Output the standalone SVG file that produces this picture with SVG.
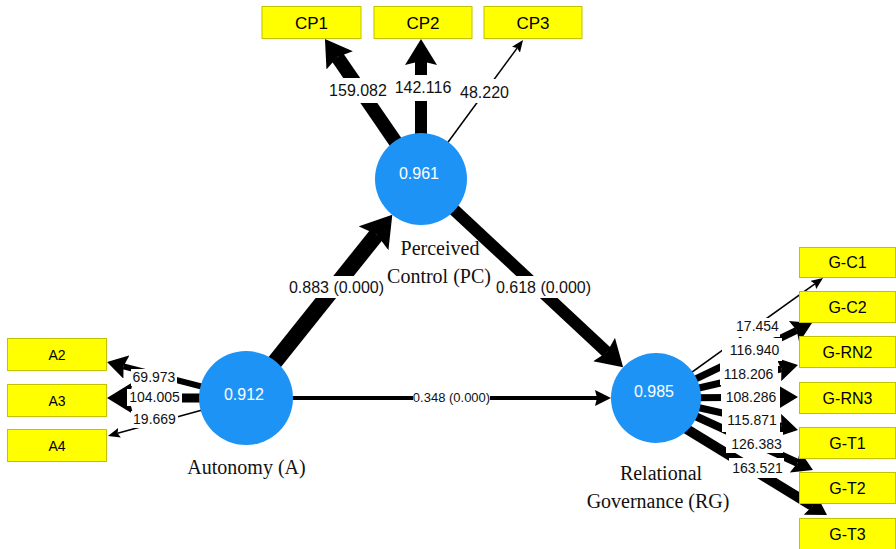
<svg xmlns="http://www.w3.org/2000/svg" width="896" height="549" viewBox="0 0 896 549">
  <style>
    .ind rect { fill: #ffff00; stroke: #c2c200; stroke-width: 1; }
    .ind text { font-family: "Liberation Sans", Arial, sans-serif; fill: #000; text-anchor: middle; }
    .lat circle { fill: #1e93f6; }
    .lat text.val { font-family: "Liberation Sans", Arial, sans-serif; font-size: 16px; fill: #fff; text-anchor: middle; }
    .lat text.name { font-family: "Liberation Serif", "Times New Roman", serif; font-size: 20px; fill: #111; text-anchor: middle; }
    .edge { fill: none; stroke: #000; stroke-linecap: butt; }
    .lbl rect { fill: #fff; }
    .lbl text { font-family: "Liberation Sans", Arial, sans-serif; fill: #111; text-anchor: middle; }
    .s16 { font-size: 16px; }
    .s14 { font-size: 14px; }
    .s13 { font-size: 13px; }
  </style>
  <defs>
    <marker id="hXL" markerUnits="userSpaceOnUse" viewBox="0 0 30 38" markerWidth="30" markerHeight="38" refX="5" refY="19" orient="auto">
      <path d="M0,0 L30,19 L0,38 L5,19 Z" fill="#000"/>
    </marker>
    <marker id="hL" markerUnits="userSpaceOnUse" viewBox="0 0 26 32" markerWidth="26" markerHeight="32" refX="4" refY="16" orient="auto">
      <path d="M0,0 L26,16 L0,32 L4,16 Z" fill="#000"/>
    </marker>
    <marker id="hM" markerUnits="userSpaceOnUse" viewBox="0 0 20 24" markerWidth="20" markerHeight="24" refX="3" refY="12" orient="auto">
      <path d="M0,0 L20,12 L0,24 L3,12 Z" fill="#000"/>
    </marker>
    <marker id="hA" markerUnits="userSpaceOnUse" viewBox="0 0 16 16" markerWidth="16" markerHeight="16" refX="2" refY="8" orient="auto">
      <path d="M0,0 L16,8 L0,16 L2,8 Z" fill="#000"/>
    </marker>
    <marker id="hS" markerUnits="userSpaceOnUse" viewBox="0 0 12 10" markerWidth="12" markerHeight="10" refX="2" refY="5" orient="auto">
      <path d="M0,0 L12,5 L0,10 L2,5 Z" fill="#000"/>
    </marker>
  </defs>

  <!-- connectors: paths with weights, then their value labels -->
  <g id="connectors">
    <path class="edge" d="M421,179 L337.4,57.1" stroke-width="14" marker-end="url(#hL)"/>
    <path class="edge" d="M421,179 L421,61" stroke-width="12" marker-end="url(#hL)"/>
    <path class="edge" d="M421,179 L517.1,48.1" stroke-width="1.6" marker-end="url(#hS)"/>
    <path class="edge" d="M246,398 L123.5,366.3" stroke-width="6" marker-end="url(#hM)"/>
    <path class="edge" d="M246,398 L129,398" stroke-width="9" marker-end="url(#hL)"/>
    <path class="edge" d="M246,398 L117.6,433.3" stroke-width="1.6" marker-end="url(#hS)"/>
    <path class="edge" d="M246,398 L376.7,234.4" stroke-width="16" marker-end="url(#hXL)"/>
    <path class="edge" d="M421,179 L607,352.3" stroke-width="12" marker-end="url(#hL)"/>
    <path class="edge" d="M246,398 L597,398" stroke-width="4" marker-end="url(#hA)"/>
    <path class="edge" d="M656,398 L814.9,283.8" stroke-width="1.6" marker-end="url(#hS)"/>
    <path class="edge" d="M656,398 L796.7,330.4" stroke-width="7" marker-end="url(#hM)"/>
    <path class="edge" d="M656,398 L781.4,368.8" stroke-width="7" marker-end="url(#hM)"/>
    <path class="edge" d="M656,398 L781,397.1" stroke-width="7" marker-end="url(#hM)"/>
    <path class="edge" d="M656,398 L781.4,426.3" stroke-width="7" marker-end="url(#hM)"/>
    <path class="edge" d="M656,398 L797.5,462.9" stroke-width="8" marker-end="url(#hM)"/>
    <path class="edge" d="M680,425 L812.5,506.1" stroke-width="10" marker-end="url(#hM)"/>

    <g class="lbl">
      <rect x="327" y="78" width="62" height="25"/><text class="s16" x="358" y="96">159.082</text>
      <rect x="392" y="75" width="62" height="26"/><text class="s16" x="423" y="93">142.116</text>
      <rect x="458" y="79" width="53" height="24"/><text class="s16" x="484.5" y="98">48.220</text>

      <rect x="131" y="369" width="46" height="17"/><text class="s14" x="154" y="382">69.973</text>
      <rect x="127" y="389" width="55" height="17"/><text class="s14" x="154.5" y="402">104.005</text>
      <rect x="131" y="411" width="47" height="17"/><text class="s14" x="154.5" y="424">19.669</text>

      <rect x="286" y="276" width="101" height="22"/><text class="s16" x="336.5" y="293">0.883 (0.000)</text>
      <rect x="493" y="276" width="101" height="22"/><text class="s16" x="543.5" y="293">0.618 (0.000)</text>
      <rect x="413" y="391" width="77" height="14"/><text class="s13" x="451.5" y="402">0.348 (0.000)</text>

      <rect x="735" y="318" width="45" height="19"/><text class="s14" x="757.5" y="331">17.454</text>
      <rect x="722" y="338" width="60" height="23"/><text class="s14" x="754.5" y="355">116.940</text>
      <rect x="720" y="361" width="58" height="24"/><text class="s14" x="748.5" y="379">118.206</text>
      <rect x="721" y="385" width="59" height="23"/><text class="s14" x="751" y="402">108.286</text>
      <rect x="722" y="408" width="58" height="24"/><text class="s14" x="752" y="425">115.871</text>
      <rect x="726" y="432" width="57" height="21"/><text class="s14" x="756.5" y="449">126.383</text>
      <rect x="729" y="458" width="55" height="20"/><text class="s14" x="757.5" y="473">163.521</text>
    </g>
  </g>

  <!-- latent variables -->
  <g id="PC" class="lat">
    <circle cx="421" cy="179" r="46"/>
    <text class="val" x="419" y="179">0.961</text>
    <text class="name" x="440" y="255">Perceived</text>
    <text class="name" x="439" y="283">Control (PC)</text>
  </g>
  <g id="A" class="lat">
    <circle cx="246" cy="398" r="47"/>
    <text class="val" x="244" y="400">0.912</text>
    <text class="name" x="246.5" y="474">Autonomy (A)</text>
  </g>
  <g id="RG" class="lat">
    <circle cx="656" cy="398" r="45"/>
    <text class="val" x="654" y="397">0.985</text>
    <text class="name" x="661" y="480">Relational</text>
    <text class="name" x="658" y="508">Governance (RG)</text>
  </g>

  <!-- indicators -->
  <g id="CP1" class="ind"><rect x="262" y="6.5" width="99" height="32"/><text x="311.5" y="28.5" font-size="17">CP1</text></g>
  <g id="CP2" class="ind"><rect x="374" y="6.5" width="98" height="32"/><text x="423" y="28.5" font-size="17">CP2</text></g>
  <g id="CP3" class="ind"><rect x="484" y="6.5" width="98" height="32"/><text x="533" y="28.5" font-size="17">CP3</text></g>

  <g id="A2" class="ind"><rect x="7.5" y="338.5" width="99" height="32"/><text x="57" y="359.5" font-size="14">A2</text></g>
  <g id="A3" class="ind"><rect x="7.5" y="384.5" width="99" height="32"/><text x="57" y="405.5" font-size="14">A3</text></g>
  <g id="A4" class="ind"><rect x="7.5" y="429.5" width="99" height="32"/><text x="57" y="450.5" font-size="14">A4</text></g>

  <g id="G-C1" class="ind"><rect x="799.5" y="247.5" width="96" height="30"/><text x="847.5" y="268" font-size="16">G-C1</text></g>
  <g id="G-C2" class="ind"><rect x="799.5" y="291.5" width="96" height="31"/><text x="847.5" y="312.5" font-size="16">G-C2</text></g>
  <g id="G-RN2" class="ind"><rect x="799.5" y="336.5" width="96" height="31"/><text x="847.5" y="357.5" font-size="16">G-RN2</text></g>
  <g id="G-RN3" class="ind"><rect x="799.5" y="382.5" width="96" height="31"/><text x="847.5" y="403.5" font-size="16">G-RN3</text></g>
  <g id="G-T1" class="ind"><rect x="799.5" y="427.5" width="96" height="31"/><text x="847.5" y="448.5" font-size="16">G-T1</text></g>
  <g id="G-T2" class="ind"><rect x="799.5" y="472.5" width="96" height="31"/><text x="847.5" y="493.5" font-size="16">G-T2</text></g>
  <g id="G-T3" class="ind"><rect x="799.5" y="518.5" width="96" height="31"/><text x="847.5" y="539.5" font-size="16">G-T3</text></g>
</svg>
